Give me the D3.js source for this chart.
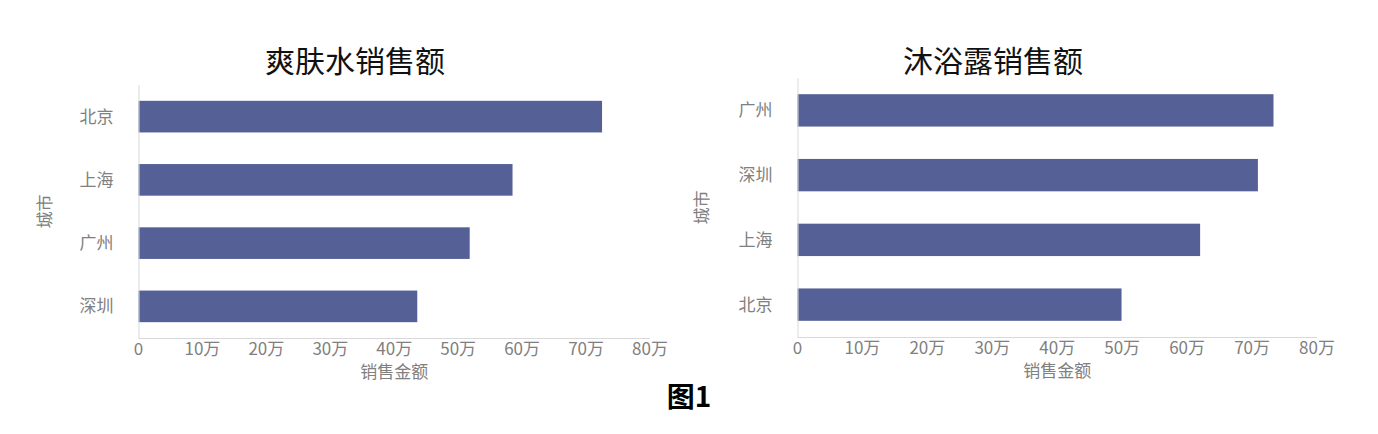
<!DOCTYPE html>
<html><head><meta charset="utf-8">
<script src="https://cdn.jsdelivr.net/npm/d3@7"></script>
<style>
html,body{margin:0;padding:0;background:#fff;}
svg{display:block;font-family:"Noto Sans CJK SC","Noto Sans",sans-serif;}
</style></head>
<body>
<svg id="c" width="1378" height="434"></svg>
<script>
const leftTitle = "爽肤水销售额";
const leftCities = ["北京","上海","广州","深圳"];
const leftValues = [72.5, 58.5, 51.8, 43.6];
const rightTitle = "沐浴露销售额";
const rightCities = ["广州","深圳","上海","北京"];
const rightValues = [73.3, 70.9, 62.0, 49.9];
const xTicks = [0,10,20,30,40,50,60,70,80];
const xTickLabels = ["0","10万","20万","30万","40万","50万","60万","70万","80万"];
const xAxisTitle = "销售金额";
const yAxisTitle = "城市";
const figCaption = "图1";

const svg = d3.select("#c");
const barColor = "#556096";
const gray = "#808080";

function panel(cfg){
  const g = svg.append("g");
  const x = d3.scaleLinear().domain([0,80]).range([cfg.x0, cfg.x1]);
  const y = d3.scaleBand().domain(cfg.cities).range([cfg.y0, cfg.y1]).paddingInner(0.5).paddingOuter(0.25);
  g.selectAll("rect").data(cfg.values).join("rect")
    .attr("x", x(0)).attr("y", (d,i)=>y(cfg.cities[i]))
    .attr("width", d=>x(d)-x(0)).attr("height", y.bandwidth())
    .attr("fill", barColor);
  g.append("line").attr("x1",x(0)+0.5).attr("x2",x(0)+0.5).attr("y1",cfg.y0).attr("y2",cfg.y1)
    .attr("stroke","#d9d9d9").attr("stroke-width",1);
  g.append("line").attr("x1",x(0)).attr("x2",x(80)).attr("y1",cfg.y1+0.5).attr("y2",cfg.y1+0.5)
    .attr("stroke","#d9d9d9").attr("stroke-width",1);
  g.selectAll("text.xt").data(xTicks).join("text").attr("class","xt")
    .attr("x", d=>x(d)).attr("y", cfg.y1+17)
    .attr("text-anchor","middle").attr("font-size",17).attr("fill",gray)
    .text((d,i)=>xTickLabels[i]);
  g.selectAll("text.yt").data(cfg.cities).join("text").attr("class","yt")
    .attr("x", x(0)-25).attr("y", d=>y(d)+y.bandwidth()/2+6)
    .attr("text-anchor","end").attr("font-size",17).attr("fill",gray)
    .text(d=>d);
  g.append("text").attr("x",(x(0)+x(80))/2).attr("y",cfg.y1+40)
    .attr("text-anchor","middle").attr("font-size",17).attr("fill",gray).text(xAxisTitle);
  g.append("text").attr("transform",`translate(${cfg.yTitleX},${(cfg.y0+cfg.y1)/2}) rotate(-90)`)
    .attr("text-anchor","middle").attr("font-size",17).attr("fill",gray).text(yAxisTitle);
  g.append("text").attr("x",cfg.titleX).attr("y",72)
    .attr("text-anchor","middle").attr("font-size",30).attr("fill","#111").attr("font-weight",400).text(cfg.title);
}

panel({title:leftTitle, cities:leftCities, values:leftValues, x0:138.5, x1:650, y0:85, y1:338, yTitleX:51, titleX:355});
panel({title:rightTitle, cities:rightCities, values:rightValues, x0:797.5, x1:1317, y0:78, y1:337, yTitleX:708, titleX:993});

svg.append("text").attr("x",689).attr("y",407).attr("text-anchor","middle")
  .attr("font-size",28).attr("font-weight",600).attr("fill","#000").text(figCaption);
</script>
</body></html>
